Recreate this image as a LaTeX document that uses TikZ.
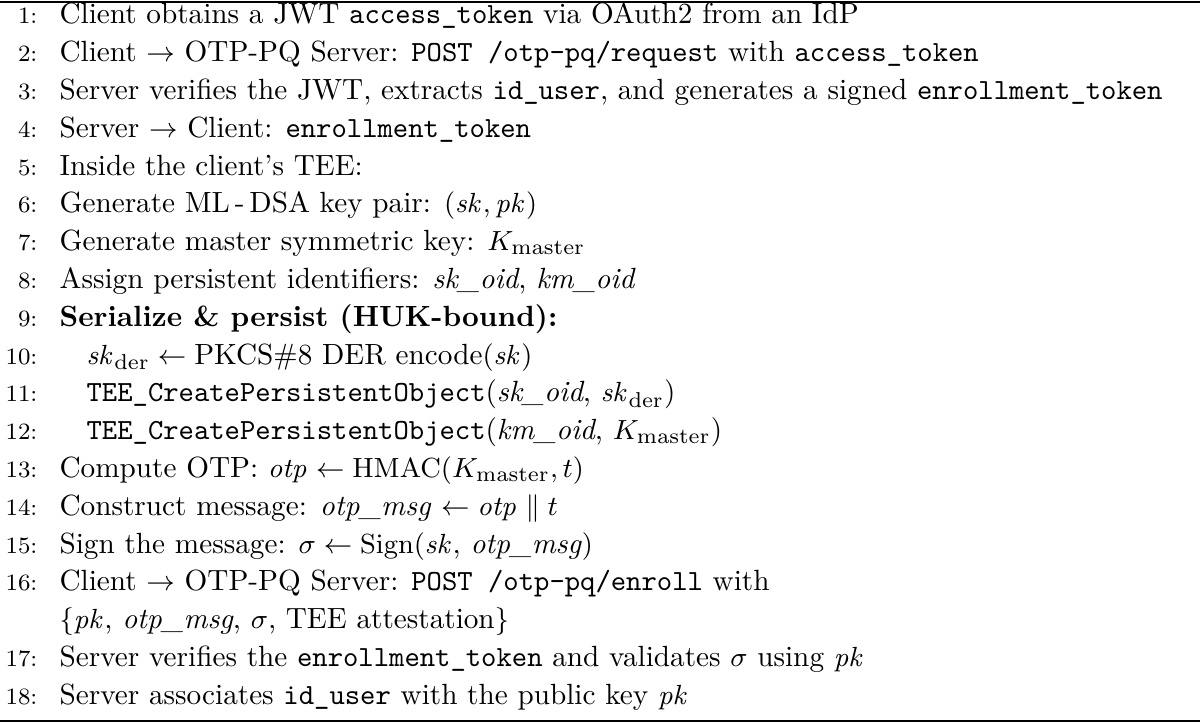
\documentclass[tikz,border=0pt]{standalone}
\usepackage{amsmath}
\begin{document}
\begin{tikzpicture}[x=0.325pt,y=-0.325pt,
  num/.style={anchor=base east,inner sep=0pt,font=\fontsize{7.6}{9}\selectfont},
  txt/.style={anchor=base west,inner sep=0pt,font=\fontsize{9.5}{11}\selectfont}]
\useasboundingbox (0,0) rectangle (1200,723);
\draw[line width=0.8pt] (0,2) -- (1200,2);
\draw[line width=0.8pt] (0,721) -- (1200,721);
\def\R#1{24+37.8*(#1-1)}
\foreach \n/\r in {1/1,2/2,3/3,4/4,5/5,6/6,7/7,8/8,9/9,10/10,11/11,12/12,13/13,14/14,15/15,16/16,17/18,18/19}
  \node[num] (n\n) at (38,{\R{\r}}) {\n:};
\node[txt] (l1) at (59,{\R{1}}) {Client obtains a JWT \texttt{access\_token} via OAuth2 from an IdP};
\node[txt] (l2) at (59,{\R{2}}) {Client $\rightarrow$ OTP-PQ Server: \texttt{POST /otp-pq/request} with \texttt{access\_token}};
\node[txt] (l3) at (59,{\R{3}}) {Server verifies the JWT, extracts \texttt{id\_user}, and generates a signed \texttt{enrollment\_token}};
\node[txt] (l4) at (59,{\R{4}}) {Server $\rightarrow$ Client: \texttt{enrollment\_token}};
\node[txt] (l5) at (59,{\R{5}}) {Inside the client's TEE:};
\node[txt] (l6) at (59,{\R{6}}) {Generate ML\,-\,DSA key pair: $(\mathit{sk},\mathit{pk})$};
\node[txt] (l7) at (59,{\R{7}}) {Generate master symmetric key: $K_{\mathrm{master}}$};
\node[txt] (l8) at (59,{\R{8}}) {Assign persistent identifiers: \textit{sk\_oid}, \textit{km\_oid}};
\node[txt] (l9) at (59,{\R{9}}) {\textbf{Serialize \& persist (HUK-bound):}};
\node[txt] (l10) at (86,{\R{10}}) {$\mathit{sk}_{\mathrm{der}} \leftarrow \text{PKCS\#8 DER encode}(\mathit{sk})$};
\node[txt] (l11) at (86,{\R{11}}) {\texttt{TEE\_CreatePersistentObject}(\textit{sk\_oid}, $\mathit{sk}_{\mathrm{der}}$)};
\node[txt] (l12) at (86,{\R{12}}) {\texttt{TEE\_CreatePersistentObject}(\textit{km\_oid}, $K_{\mathrm{master}}$)};
\node[txt] (l13) at (59,{\R{13}}) {Compute OTP: $\mathit{otp} \leftarrow \mathrm{HMAC}(K_{\mathrm{master}}, t)$};
\node[txt] (l14) at (59,{\R{14}}) {Construct message: \textit{otp\_msg} $\leftarrow \mathit{otp} \parallel t$};
\node[txt] (l15) at (59,{\R{15}}) {Sign the message: $\sigma \leftarrow \mathrm{Sign}(\mathit{sk}$, \textit{otp\_msg}$)$};
\node[txt] (l16) at (59,{\R{16}}) {Client $\rightarrow$ OTP-PQ Server: \texttt{POST /otp-pq/enroll} with};
\node[txt] (l16b) at (59,{\R{17}}) {$\{\mathit{pk}$, \textit{otp\_msg}, $\sigma$, TEE attestation$\}$};
\node[txt] (l17) at (59,{\R{18}}) {Server verifies the \texttt{enrollment\_token} and validates $\sigma$ using $\mathit{pk}$};
\node[txt] (l18) at (59,{\R{19}}) {Server associates \texttt{id\_user} with the public key $\mathit{pk}$};
\end{tikzpicture}
\end{document}
